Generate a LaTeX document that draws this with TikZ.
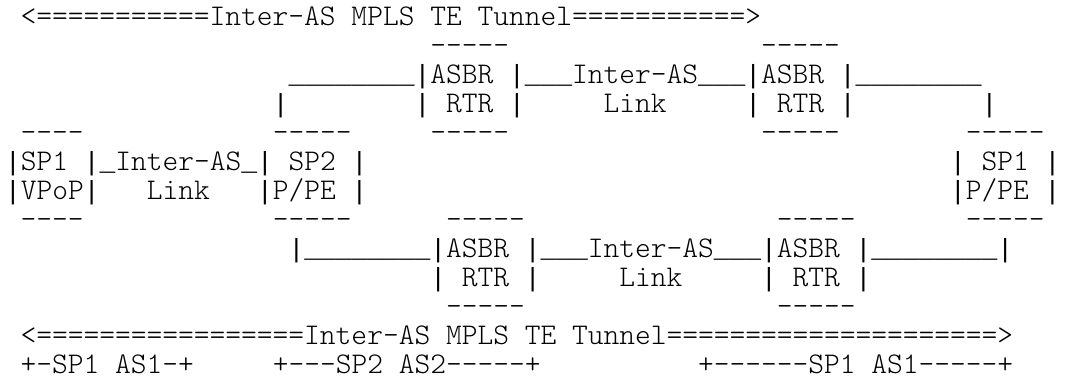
\documentclass[tikz,border=0pt]{standalone}
\usepackage{fontspec}
\setmonofont{lmmonolt10-regular.otf}
\newfontfamily\libm{Liberation Mono}[Scale=0.875]
\newcommand{\cw}{15.75}
\newcommand{\lh}{29}
% bar and underscore glyphs drawn with a Courier-metric font
\newcommand{\vb}{{\libm|}}
\newcommand{\ueight}{{\libm\_\_\_\_\_\_\_\_}}
\newcommand{\uthree}{{\libm\_\_\_}}
\newcommand{\uone}{{\libm\_}}
\begin{document}
\begin{tikzpicture}[x=0.5pt,y=-0.5pt,
  txt/.style={anchor=base west, inner sep=0pt, outer sep=0pt,
    font=\ttfamily\fontsize{15pt}{16pt}\selectfont}]
\useasboundingbox (0,0) rectangle (1071,378);
\newcommand{\seg}[4]{\node[txt] (#1) at ({5+\cw*#2},{26+\lh*(#3-1)}) {#4};}
% row 1
\seg{tunA}{1}{1}{<===========Inter-AS MPLS TE Tunnel===========>}
% row 2
\seg{r2a}{27}{2}{-----}
\seg{r2b}{48}{2}{-----}
% row 3
\seg{r3a}{18}{3}{\ueight\vb ASBR \vb\uthree Inter-AS\uthree\vb ASBR \vb\ueight}
% row 4
\seg{r4a}{17}{4}{\vb}
\seg{r4b}{26}{4}{\vb{} RTR \vb}
\seg{r4c}{38}{4}{Link}
\seg{r4d}{47}{4}{\vb{} RTR \vb}
\seg{r4e}{62}{4}{\vb}
% row 5
\seg{r5a}{1}{5}{----}
\seg{r5b}{17}{5}{-----}
\seg{r5c}{27}{5}{-----}
\seg{r5d}{48}{5}{-----}
\seg{r5e}{61}{5}{-----}
% row 6
\seg{r6a}{0}{6}{\vb SP1 \vb\uone Inter-AS\uone\vb{} SP2 \vb}
\seg{r6b}{60}{6}{\vb{} SP1 \vb}
% row 7
\seg{r7a}{0}{7}{\vb VPoP\vb}
\seg{r7b}{9}{7}{Link}
\seg{r7c}{16}{7}{\vb P/PE \vb}
\seg{r7d}{60}{7}{\vb P/PE \vb}
% row 8
\seg{r8a}{1}{8}{----}
\seg{r8b}{17}{8}{-----}
\seg{r8c}{28}{8}{-----}
\seg{r8d}{49}{8}{-----}
\seg{r8e}{61}{8}{-----}
% row 9
\seg{r9a}{18}{9}{\vb\ueight\vb ASBR \vb\uthree Inter-AS\uthree\vb ASBR \vb\ueight\vb}
% row 10
\seg{r10a}{27}{10}{\vb{} RTR \vb}
\seg{r10b}{39}{10}{Link}
\seg{r10c}{48}{10}{\vb{} RTR \vb}
% row 11
\seg{r11a}{28}{11}{-----}
\seg{r11b}{49}{11}{-----}
% row 12
\seg{tunB}{1}{12}{<=================Inter-AS MPLS TE Tunnel=====================>}
% row 13
\seg{asA}{1}{13}{+-SP1 AS1-+}
\seg{asB}{17}{13}{+---SP2 AS2-----+}
\seg{asC}{44}{13}{+------SP1 AS1-----+}
\end{tikzpicture}
\end{document}
